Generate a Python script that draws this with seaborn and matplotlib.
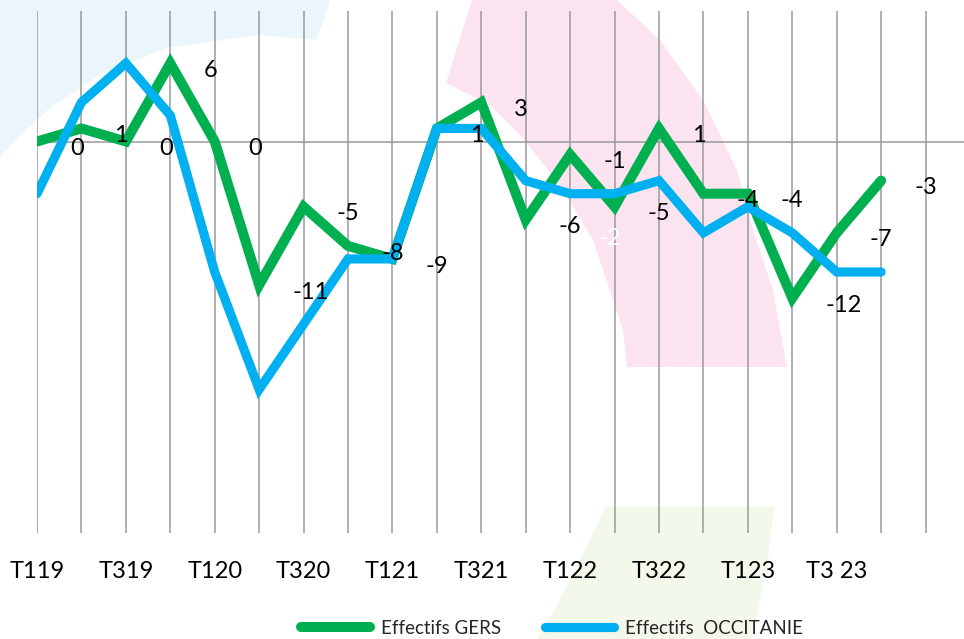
import matplotlib
matplotlib.use("Agg")
import matplotlib.pyplot as plt
from matplotlib.patches import Polygon
import seaborn as sns
import pandas as pd

# ---- data ----
periods = ["T119", "T219", "T319", "T419", "T120", "T220", "T320", "T420",
           "T121", "T221", "T321", "T421", "T122", "T222", "T322", "T422",
           "T123", "T223", "T3 23", "T423"]
tick_labels = ["T119", "", "T319", "", "T120", "", "T320", "", "T121", "",
               "T321", "", "T122", "", "T322", "", "T123", "", "T3 23", "", ""]
gers = [0, 1, 0, 6, 0, -11, -5, -8, -9, 1, 3, -6, -1, -5, 1, -4, -4, -12, -7, -3]
occitanie = [-4, 3, 6, 2, -10, -19, -14, -9, -9, 1, 1, -3, -4, -4, -3, -7, -5, -7, -10, -10]

GREEN = "#00B050"
BLUE = "#00B0F0"

sns.set_theme(style="white")
plt.rcParams["font.family"] = ["Lato", "DejaVu Sans"]

W, H = 964, 639
fig = plt.figure(figsize=(W / 100, H / 100), dpi=100, facecolor="white")

def fp(pts):
    return [(x / W, 1 - y / H) for x, y in pts]

# faint decorative background shapes
bg_blue = [(0, 0), (330, 0), (317, 40), (257, 35), (167, 48), (100, 75),
           (50, 108), (20, 135), (0, 157)]
bg_pink = [(472, 0), (446, 83), (490, 105), (520, 135), (560, 185), (593, 240),
           (613, 300), (623, 330), (627, 367), (787, 367), (773, 290), (753, 230),
           (737, 170), (703, 100), (660, 40), (617, 0)]
bg_green = [(605, 507), (774, 507), (768, 560), (760, 600), (752, 639),
            (537, 639), (553, 613), (570, 580), (590, 540)]
for pts, col in [(bg_blue, "#EAF6FC"), (bg_pink, "#FBE4F0"), (bg_green, "#F2F9EA")]:
    fig.add_artist(Polygon(fp(pts), closed=True, transform=fig.transFigure,
                           facecolor=col, edgecolor="none", zorder=-5))

ax = fig.add_axes([37 / W, 1 - 533 / H, (970 - 37) / W, 522 / H])
ax.patch.set_alpha(0)

df = pd.DataFrame({"idx": list(range(len(periods))), "period": periods,
                   "GERS": gers, "OCCITANIE": occitanie})

sns.lineplot(data=df, x="idx", y="GERS", ax=ax, color=GREEN, linewidth=7.2,
             solid_capstyle="round", solid_joinstyle="miter",
             label="Effectifs GERS", zorder=3)
sns.lineplot(data=df, x="idx", y="OCCITANIE", ax=ax, color=BLUE, linewidth=6.6,
             solid_capstyle="round", solid_joinstyle="miter",
             label="Effectifs  OCCITANIE", zorder=4)

ax.set_xlim(0, 21)
ax.set_ylim(-30, 10)
ax.set_xticks(range(len(tick_labels)))
ax.set_xticklabels(tick_labels, fontsize=17, color="black")
ax.set_yticks([])
ax.tick_params(axis="x", length=0, pad=20)
ax.grid(axis="x", color="#9A9A9A", linewidth=1.1)
ax.grid(axis="y", visible=False)
ax.axhline(0, color="#9A9A9A", linewidth=1.1, zorder=1)
for s in ax.spines.values():
    s.set_visible(False)
ax.set_xlabel("")
ax.set_ylabel("")

# data labels (GERS values), placed to the right of each point
for i, v in enumerate(gers):
    ax.annotate(str(v), (i, v), xytext=(23.8, -9.8), textcoords="offset points",
                ha="left", va="baseline", fontsize=17, color="black", zorder=6)

# faint white label visible on the pink shape
fig.text(598 / W, 1 - 245 / H, "-2", fontsize=17, color="white",
         ha="left", va="baseline", zorder=2)

ax.get_legend().remove()
handles, labels = ax.get_legend_handles_labels()
leg = fig.legend(handles, labels, loc="center", ncol=2,
                 bbox_to_anchor=(552 / W, 1 - 628 / H), frameon=False,
                 fontsize=13.5, handlelength=3.7, handletextpad=0.6,
                 columnspacing=2.3, borderpad=0)

fig.savefig("out.png", dpi=100, facecolor="white")
